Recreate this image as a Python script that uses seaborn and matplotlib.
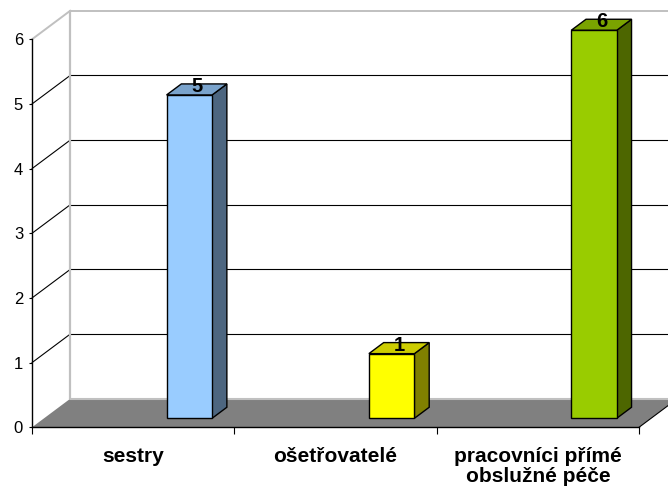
import matplotlib
matplotlib.use("Agg")
import matplotlib.pyplot as plt
import matplotlib.colors as mcolors
from matplotlib.patches import Polygon
from matplotlib.transforms import Affine2D
import seaborn as sns
import pandas as pd

# Data
categories = ["sestry", "ošetřovatelé", "pracovníci přímé\nobslužné péče"]
counts = [5, 1, 6]
front_colors = ["#99CCFF", "#FFFF00", "#99CC00"]
y_ticks = [0, 1, 2, 3, 4, 5, 6]

sns.set_theme(style="white")
plt.rcParams["font.family"] = ["Liberation Sans", "DejaVu Sans"]

W, H = 668, 492
fig = plt.figure(figsize=(W / 100, H / 100), dpi=100)
fig.patch.set_facecolor("white")
ax = fig.add_axes([32 / W, (H - 427.3) / H, (639 - 32) / W, (427.3 - 39.3) / H])
ax.set_facecolor("none")

# depth of the 3-D box (data units)
DX, DY = 0.19, 0.444
# placement of the columns inside the box
LATERAL = 0.218
FRONT_F = 0.313
BAR_F = 0.385
BAR_W = 0.225
WALL_GRAY = "#C0C0C0"

x0, x1 = -0.5, 2.5
ymax = y_ticks[-1]

# back wall
ax.add_patch(Polygon([(x0 + DX, DY), (x1 + DX, DY), (x1 + DX, ymax + DY), (x0 + DX, ymax + DY)],
                     closed=True, facecolor="white", edgecolor="none", zorder=0.1, clip_on=False))
for k in y_ticks[1:]:
    c = WALL_GRAY if k == ymax else "black"
    lw = 1.4 if k == ymax else 0.8
    ax.plot([x0, x0 + DX], [k, k + DY], color=c, lw=lw, zorder=0.3, clip_on=False)
    ax.plot([x0 + DX, x1 + DX], [k + DY, k + DY], color=c, lw=lw, zorder=0.3, clip_on=False)
ax.plot([x0 + DX, x0 + DX], [DY, ymax + DY], color=WALL_GRAY, lw=1.6, zorder=0.3, clip_on=False)

# floor
ax.add_patch(Polygon([(x0, 0), (x1, 0), (x1 + DX, DY), (x0 + DX, DY)], closed=True,
                     facecolor="#808080", edgecolor="none", zorder=0.5, clip_on=False))
ax.plot([x0 + DX, x1 + DX], [DY, DY], color=WALL_GRAY, lw=1.5, zorder=0.6, clip_on=False)
ax.plot([x1, x1 + DX], [0, DY], color="black", lw=0.8, zorder=0.6, clip_on=False)

# columns (front faces)
df = pd.DataFrame({"kategorie": categories, "pocet": counts})
sns.barplot(data=df, x="kategorie", y="pocet", hue="kategorie", palette=front_colors,
            saturation=1, width=BAR_W, legend=False, edgecolor="black", linewidth=1.0,
            ax=ax, zorder=3)
bars = [p for cont in ax.containers for p in cont]

sx = LATERAL + FRONT_F * DX
sy = FRONT_F * DY
shift = Affine2D().translate(sx, sy)
bdx, bdy = BAR_F * DX, BAR_F * DY
for patch, col, val in zip(bars, front_colors, counts):
    patch.set_transform(shift + ax.transData)
    patch.set_clip_on(False)
    bx = patch.get_x() + sx
    bw = patch.get_width()
    h = patch.get_height() + sy
    b = sy
    rgb = mcolors.to_rgb(col)
    top_c = tuple(v * 0.8 for v in rgb)
    side_c = tuple(v * 0.5 for v in rgb)
    ax.add_patch(Polygon([(bx + bw, b), (bx + bw + bdx, b + bdy), (bx + bw + bdx, h + bdy), (bx + bw, h)],
                         closed=True, facecolor=side_c, edgecolor="black", lw=1.0, zorder=2.9,
                         clip_on=False))
    ax.add_patch(Polygon([(bx, h), (bx + bw, h), (bx + bw + bdx, h + bdy), (bx + bdx, h + bdy)],
                         closed=True, facecolor=top_c, edgecolor="black", lw=1.0, zorder=2.9,
                         clip_on=False))
    ax.annotate(f"{val:g}", xy=(bx + bw / 2 + bdx / 2, h), xytext=(0, 2.2),
                textcoords="offset points", ha="center", va="baseline",
                fontsize=14.5, fontweight="bold", color="black", zorder=5, annotation_clip=False)

ax.set_xlim(x0, x1)
ax.set_ylim(0, ymax)
ax.set_xlabel("")
ax.set_ylabel("")

for s in ["top", "right"]:
    ax.spines[s].set_visible(False)
for s in ["left", "bottom"]:
    ax.spines[s].set_visible(True)
    ax.spines[s].set_color("black")
    ax.spines[s].set_linewidth(1.0)
    ax.spines[s].set_zorder(2)

ax.set_yticks(y_ticks)
ax.set_yticklabels([str(t) for t in y_ticks])
ax.tick_params(axis="y", left=True, direction="out", length=2.4, width=0.8, color="black",
               labelsize=12, pad=4, labelcolor="black")

ax.set_xticks(range(len(categories)))
ax.set_xticklabels(categories, fontsize=15, fontweight="bold", linespacing=1.08)
ax.set_xticks([x0 + i for i in range(len(categories) + 1)], minor=True)
ax.tick_params(axis="x", which="major", bottom=True, length=0, pad=14, labelcolor="black")
ax.tick_params(axis="x", which="minor", bottom=True, direction="out", length=5, width=0.8,
               color="black")

fig.savefig("out.png", dpi=100, facecolor="white")
